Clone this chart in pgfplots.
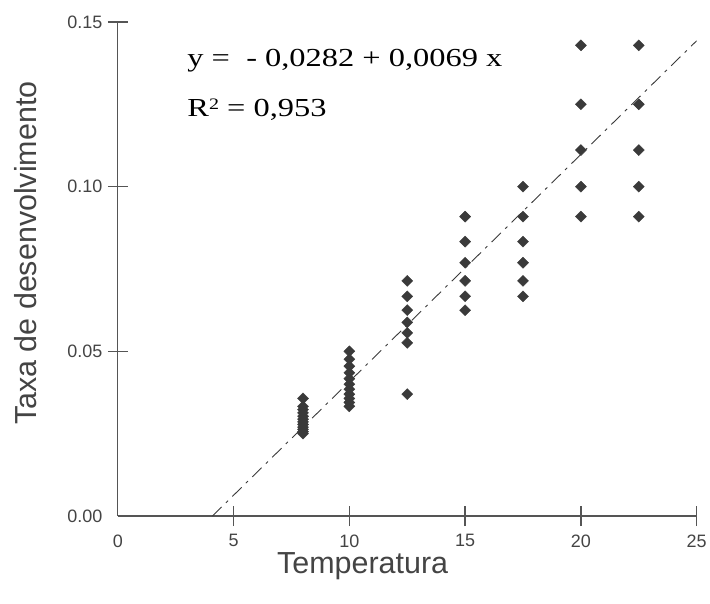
\documentclass[border=0pt]{standalone}
\usepackage{fontspec}
\setmainfont{Liberation Sans}
\newfontfamily\timesfont{Liberation Serif}
\usepackage{pgfplots}
\pgfplotsset{compat=1.18}

\definecolor{axgray}{HTML}{555555}
\definecolor{ptgray}{HTML}{3A3A3A}
\definecolor{txgray}{HTML}{444444}

\begin{document}
\begin{tikzpicture}
\begin{axis}[
    name=ax,
    scale only axis,
    width=580pt, height=495pt,
    xmin=0, xmax=25, ymin=0, ymax=0.15,
    axis x line*=bottom, axis y line*=left,
    axis line style={axgray, line width=1.3pt, -},
    xtick={5,10,...,25}, ytick={0.05,0.10,0.15},
    extra x ticks={0}, extra y ticks={0},
    extra tick style={major tick style={draw=none}},
    tick align=center, major tick length=20pt,
    tick style={axgray, line width=1.3pt},
    scaled y ticks=false,
    yticklabel style={/pgf/number format/fixed, /pgf/number format/fixed zerofill,
                      /pgf/number format/precision=2, xshift=-2pt},
    xticklabel style={yshift=-5pt},
    /pgf/number format/assume math mode=true,
    tick label style={font=\fontsize{18}{21}\selectfont, text=txgray},
    xlabel={Temperatura},
    ylabel={Taxa de desenvolvimento},
    label style={font=\fontsize{30.5}{36}\selectfont, text=txgray},
    xlabel style={at={(axis description cs:0.423,0)}, anchor=base, yshift=-58pt},
    ylabel style={at={(axis description cs:-0.1586,0.532)}, anchor=center},
]
% data: development rate (1/days) by temperature
\addplot[only marks, mark=square*, mark size=3.9pt,
         mark options={rotate=45, fill=ptgray, draw=ptgray}] coordinates {
    (8,0.0357) (8,0.0333) (8,0.0323) (8,0.0313) (8,0.0303) (8,0.0294)
    (8,0.0286) (8,0.0278) (8,0.0270) (8,0.0263) (8,0.0256) (8,0.0250)
    (10,0.0500) (10,0.0476) (10,0.0455) (10,0.0435) (10,0.0417) (10,0.0400)
    (10,0.0385) (10,0.0370) (10,0.0357) (10,0.0345) (10,0.0333)
    (12.5,0.0714) (12.5,0.0667) (12.5,0.0625) (12.5,0.0588) (12.5,0.0556)
    (12.5,0.0526) (12.5,0.0370)
    (15,0.0909) (15,0.0833) (15,0.0769) (15,0.0714) (15,0.0667) (15,0.0625)
    (17.5,0.1000) (17.5,0.0909) (17.5,0.0833) (17.5,0.0769) (17.5,0.0714) (17.5,0.0667)
    (20,0.1429) (20,0.1250) (20,0.1111) (20,0.1000) (20,0.0909)
    (22.5,0.1429) (22.5,0.1250) (22.5,0.1111) (22.5,0.1000) (22.5,0.0909)
};
% fitted line y = -0.0282 + 0.0069 x
\addplot[ptgray, line width=0.9pt, dash pattern=on 13pt off 6pt on 3pt off 6pt]
    coordinates {(4.087,0) (25,0.1443)};
\node[anchor=base west, font=\timesfont\fontsize{26}{30}\selectfont, inner sep=0pt]
    at (axis cs:3.0,0.1364) {\scalebox{1.25}[1]{y =\ \ - 0,0282 + 0,0069 x}};
\node[anchor=base west, font=\timesfont\fontsize{26}{30}\selectfont, inner sep=0pt]
    at (axis cs:3.0,0.1212) {\scalebox{1.25}[1]{R\raisebox{0.6ex}{\fontsize{16}{16}\selectfont 2} = 0,953}};
\end{axis}
\path ([shift={(-118pt,-88pt)}]ax.south west) rectangle ([shift={(12pt,22pt)}]ax.north east);
\end{tikzpicture}
\end{document}
